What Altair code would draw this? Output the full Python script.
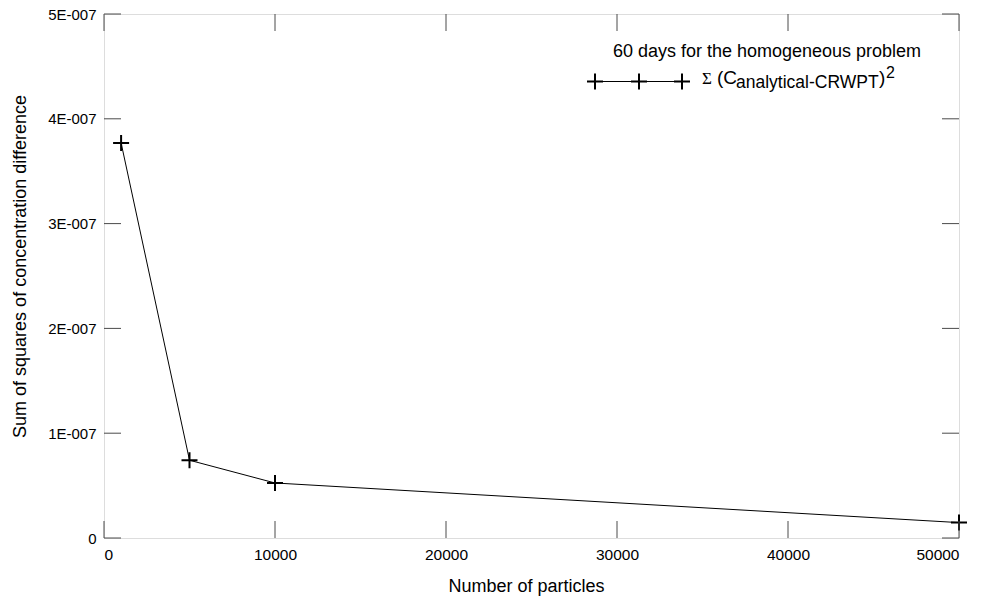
import altair as alt
import pandas as pd

# ---- data ----
particles = [1000, 5000, 10000, 50000]
sum_sq = [3.77e-7, 0.742e-7, 0.525e-7, 0.147e-7]
x_ticks = [0, 10000, 20000, 30000, 40000, 50000]
y_ticks = [0, 1e-7, 2e-7, 3e-7, 4e-7, 5e-7]
x_title = "Number of particles"
y_title = "Sum of squares of concentration difference"
legend_title = "60 days for the homogeneous problem"
legend_sigma = "Σ"
legend_open = "(C"
legend_sub = "analytical-CRWPT"
legend_close = ")"
legend_sup = "2"

W, H = 855, 524
GREY = "#4a4a4a"
FONT = "Liberation Sans"
TICK = 17

df = pd.DataFrame({"n": particles, "s": sum_sq})
xt = pd.DataFrame({"n": x_ticks})
yt = pd.DataFrame({"s": y_ticks})
one = alt.Data(values=[{"k": 1}])

xs = alt.Scale(domain=[0, 50000], nice=False, zero=False)
ys = alt.Scale(domain=[0, 5e-7], nice=False, zero=False)

x_axis = alt.Axis(values=x_ticks, format="d", ticks=False, domain=False, grid=False,
                  labelPadding=9, labelFontSize=15.5, labelFont=FONT, labelColor="black",
                  title=x_title, titleFontSize=18, titleFont=FONT, titleFontWeight="normal",
                  titleColor="black", titleBaseline="middle", titleY=48, titleX=422)
y_axis = alt.Axis(values=y_ticks, ticks=False, domain=False, grid=False,
                  labelExpr="datum.value == 0 ? '0' : replace(format(datum.value, '.0e'), 'e-', 'E-00')",
                  labelPadding=8, labelFontSize=15, labelFont=FONT, labelColor="black",
                  title=y_title, titleFontSize=18, titleFont=FONT, titleFontWeight="normal",
                  titleColor="black", titleAngle=270, titleBaseline="middle", titleAlign="center",
                  titleX=-84, titleY=252)

X = alt.X("n:Q", scale=xs, axis=x_axis)
Y = alt.Y("s:Q", scale=ys, axis=y_axis)

base = alt.Chart(df)
line = base.mark_line(color="black", strokeWidth=1).encode(x=X, y=Y)
plus_path = "M-1,0L1,0M0,-1L0,1"
pts = base.mark_point(shape=plus_path, size=256, filled=False, stroke="black",
                      strokeWidth=2, opacity=1).encode(x=X, y=Y)

bottom = alt.Chart(xt).mark_rule(color=GREY, strokeWidth=1).encode(
    x=X, y=alt.value(H), y2=alt.value(H - TICK))
top = alt.Chart(xt).mark_rule(color=GREY, strokeWidth=1).encode(
    x=X, y=alt.value(0), y2=alt.value(TICK))
left = alt.Chart(yt).mark_rule(color=GREY, strokeWidth=1).encode(
    y=Y, x=alt.value(0), x2=alt.value(TICK))
right = alt.Chart(yt).mark_rule(color=GREY, strokeWidth=1).encode(
    y=Y, x=alt.value(W), x2=alt.value(W - TICK))

# ---- manual legend ----
leg_y = 67.5
leg_line = alt.Chart(one).mark_rule(color="black", strokeWidth=1).encode(
    x=alt.value(491), x2=alt.value(578), y=alt.value(leg_y))
leg_pts = [alt.Chart(one).mark_point(shape=plus_path, size=256, filled=False, stroke="black",
                                      strokeWidth=2, opacity=1).encode(
    x=alt.value(px), y=alt.value(leg_y)) for px in (491, 535, 578)]

def txt(s, x, y, size, align="left", font=FONT):
    return alt.Chart(one).mark_text(align=align, baseline="alphabetic", fontSize=size,
                                    font=font, color="black").encode(
        x=alt.value(x), y=alt.value(y), text=alt.value(s))

leg_texts = [
    txt(legend_title, 663, 42.5, 18, align="center"),
    txt(legend_sigma, 598, 69.5, 17, font="Liberation Serif"),
    txt(legend_open, 613, 69.5, 19),
    txt(legend_sub, 632, 74, 17.5),
    txt(legend_close, 775, 69.5, 19),
    txt(legend_sup, 782, 64, 16),
]

chart = alt.layer(line, pts, bottom, top, left, right, leg_line, *leg_pts, *leg_texts).properties(
    width=W, height=H,
    autosize=alt.AutoSizeParams(type="none"),
    padding={"left": 104, "top": 14, "right": 34, "bottom": 58},
).configure_view(stroke=GREY, strokeWidth=1).configure(background="white")

chart.save("out.html", embed_options={"renderer": "svg", "actions": False})
